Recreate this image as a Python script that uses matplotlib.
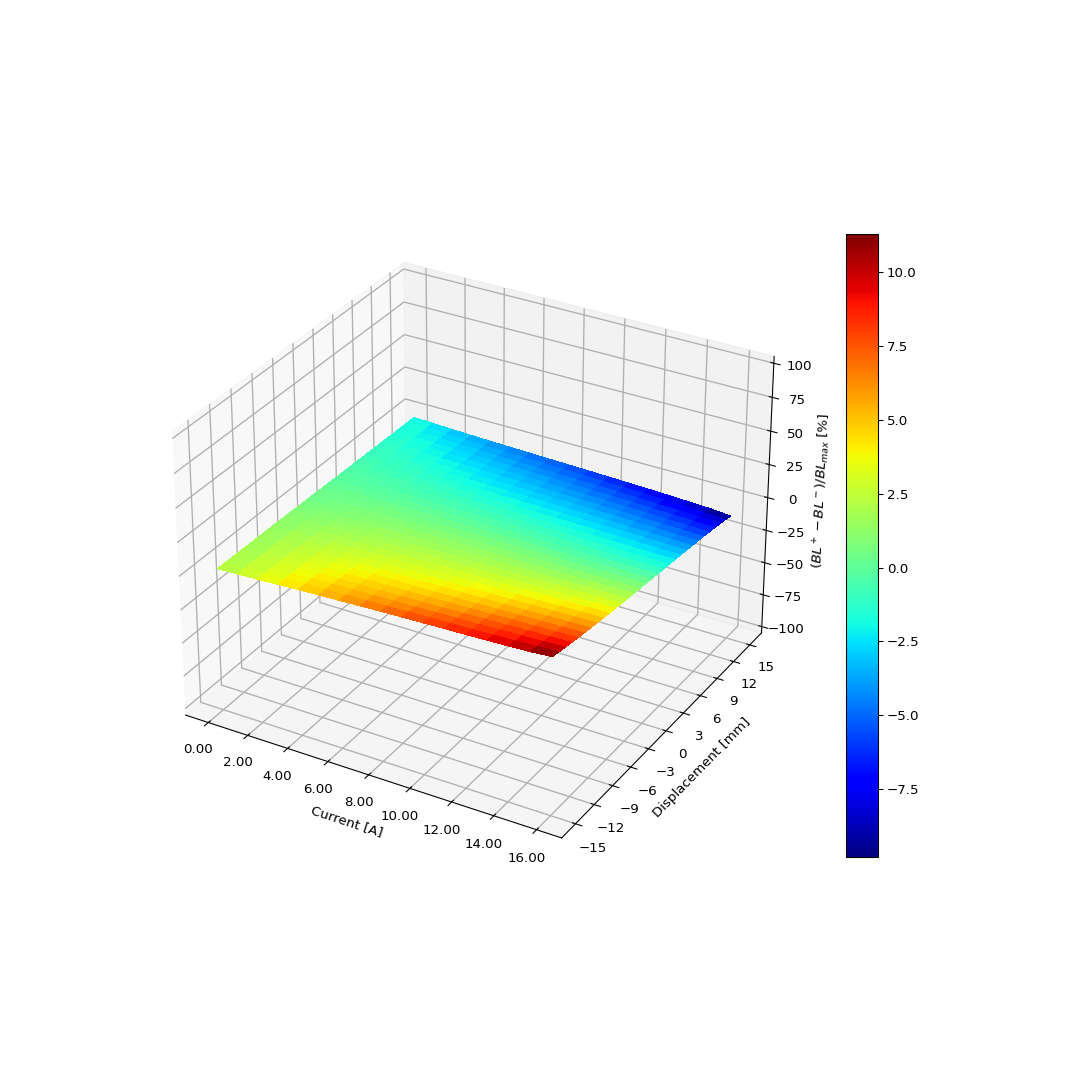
import numpy as np
import matplotlib
matplotlib.use("Agg")
import matplotlib.pyplot as plt
from matplotlib import cm

plt.rcParams["grid.linewidth"] = 1.0

# Current [A]
current = list(range(0, 17))
current_ticks = [0, 2, 4, 6, 8, 10, 12, 14, 16]
# Displacement [mm]
displacement = list(range(-15, 16))
displacement_ticks = [-15, -12, -9, -6, -3, 0, 3, 6, 9, 12, 15]
z_ticks = [-100, -75, -50, -25, 0, 25, 50, 75, 100]
color_min = -9.8
color_max = 11.3

# (BL+ - BL-)/BLmax [%], one row per current, one column per displacement
asym = [
    [2.0, 1.9, 1.8, 1.7, 1.6, 1.5, 1.4, 1.3, 1.2, 1.1, 1.0, 0.8, 0.7, 0.5, 0.4, 0.2, 0.1, -0.1, -0.2, -0.3, -0.5, -0.6, -0.7, -0.9, -1.0, -1.1, -1.3, -1.4, -1.5, -1.6, -1.7],
    [2.6, 2.5, 2.4, 2.2, 2.1, 2.0, 1.9, 1.7, 1.6, 1.4, 1.2, 1.0, 0.9, 0.6, 0.5, 0.3, 0.2, -0.1, -0.2, -0.4, -0.6, -0.8, -0.9, -1.1, -1.2, -1.4, -1.6, -1.8, -2.0, -2.1, -2.3],
    [3.2, 3.1, 2.9, 2.8, 2.6, 2.5, 2.3, 2.1, 1.9, 1.7, 1.5, 1.2, 1.0, 0.8, 0.6, 0.4, 0.2, -0.1, -0.3, -0.5, -0.7, -0.9, -1.1, -1.3, -1.5, -1.7, -1.9, -2.1, -2.4, -2.6, -2.9],
    [3.9, 3.7, 3.5, 3.3, 3.1, 2.9, 2.7, 2.4, 2.2, 1.9, 1.7, 1.4, 1.2, 0.9, 0.7, 0.5, 0.2, -0.1, -0.3, -0.6, -0.8, -1.1, -1.3, -1.5, -1.8, -2.0, -2.3, -2.5, -2.8, -3.1, -3.4],
    [4.7, 4.4, 4.1, 3.8, 3.5, 3.3, 3.0, 2.7, 2.4, 2.1, 1.8, 1.6, 1.3, 1.0, 0.8, 0.5, 0.2, -0.1, -0.4, -0.7, -0.9, -1.2, -1.5, -1.7, -2.0, -2.3, -2.6, -2.9, -3.2, -3.6, -3.9],
    [5.3, 5.0, 4.6, 4.3, 3.9, 3.6, 3.3, 2.9, 2.6, 2.3, 2.0, 1.7, 1.4, 1.1, 0.8, 0.5, 0.2, -0.1, -0.4, -0.8, -1.0, -1.3, -1.7, -2.0, -2.3, -2.5, -2.9, -3.2, -3.6, -4.0, -4.3],
    [5.9, 5.5, 5.1, 4.7, 4.3, 3.9, 3.5, 3.1, 2.8, 2.4, 2.1, 1.8, 1.5, 1.2, 0.8, 0.5, 0.2, -0.2, -0.5, -0.8, -1.2, -1.5, -1.8, -2.2, -2.5, -2.8, -3.2, -3.5, -3.9, -4.3, -4.7],
    [6.5, 6.0, 5.5, 5.0, 4.6, 4.1, 3.7, 3.3, 2.9, 2.5, 2.2, 1.9, 1.5, 1.2, 0.9, 0.5, 0.1, -0.2, -0.6, -0.9, -1.3, -1.6, -2.0, -2.4, -2.7, -3.1, -3.5, -3.8, -4.3, -4.7, -5.1],
    [7.1, 6.5, 5.9, 5.3, 4.8, 4.3, 3.8, 3.4, 3.0, 2.6, 2.3, 1.9, 1.6, 1.2, 0.9, 0.5, 0.1, -0.2, -0.6, -1.0, -1.3, -1.7, -2.1, -2.5, -2.9, -3.3, -3.7, -4.1, -4.6, -5.0, -5.5],
    [7.6, 7.0, 6.3, 5.7, 5.1, 4.6, 4.1, 3.6, 3.2, 2.8, 2.4, 2.0, 1.7, 1.3, 0.9, 0.5, 0.1, -0.3, -0.7, -1.1, -1.5, -1.9, -2.3, -2.7, -3.1, -3.6, -4.0, -4.4, -4.9, -5.4, -5.9],
    [8.1, 7.4, 6.7, 6.0, 5.4, 4.8, 4.3, 3.8, 3.4, 2.9, 2.5, 2.1, 1.7, 1.3, 0.9, 0.5, 0.1, -0.4, -0.8, -1.2, -1.6, -2.0, -2.4, -2.9, -3.3, -3.8, -4.2, -4.7, -5.2, -5.8, -6.3],
    [8.6, 7.9, 7.2, 6.5, 5.8, 5.2, 4.6, 4.1, 3.6, 3.1, 2.6, 2.2, 1.8, 1.3, 0.9, 0.5, 0.0, -0.5, -0.9, -1.3, -1.8, -2.2, -2.6, -3.1, -3.6, -4.1, -4.6, -5.1, -5.6, -6.2, -6.8],
    [9.0, 8.3, 7.6, 7.0, 6.3, 5.6, 4.9, 4.3, 3.8, 3.2, 2.7, 2.3, 1.8, 1.3, 0.9, 0.4, -0.1, -0.5, -1.0, -1.4, -1.9, -2.3, -2.8, -3.3, -3.8, -4.3, -4.9, -5.4, -6.0, -6.6, -7.2],
    [9.5, 8.8, 8.2, 7.5, 6.8, 6.0, 5.3, 4.7, 4.1, 3.5, 2.9, 2.5, 1.9, 1.4, 0.9, 0.4, -0.1, -0.6, -1.1, -1.6, -2.1, -2.5, -3.0, -3.6, -4.1, -4.6, -5.2, -5.8, -6.5, -7.1, -7.8],
    [10.0, 9.3, 8.6, 7.9, 7.1, 6.3, 5.6, 5.0, 4.3, 3.7, 3.1, 2.6, 2.0, 1.5, 0.9, 0.4, -0.1, -0.7, -1.2, -1.7, -2.2, -2.7, -3.2, -3.8, -4.3, -4.9, -5.5, -6.1, -6.9, -7.6, -8.4],
    [10.7, 10.0, 9.2, 8.4, 7.6, 6.8, 6.1, 5.4, 4.7, 4.0, 3.4, 2.8, 2.2, 1.6, 1.0, 0.5, -0.1, -0.7, -1.3, -1.8, -2.3, -2.9, -3.4, -4.1, -4.6, -5.3, -5.9, -6.6, -7.4, -8.3, -9.1],
    [11.9, 10.9, 9.9, 8.9, 8.1, 7.3, 6.5, 5.7, 5.0, 4.2, 3.6, 2.9, 2.3, 1.7, 1.1, 0.5, -0.1, -0.7, -1.3, -1.9, -2.4, -3.0, -3.6, -4.3, -4.9, -5.6, -6.3, -7.0, -7.9, -8.9, -10.4],
]

X, Y = np.meshgrid(current, displacement, indexing="ij")
Z = np.array(asym)

fig = plt.figure(figsize=(11.25, 11.25), dpi=96)
ax = fig.add_subplot(projection="3d")
surf = ax.plot_surface(X, Y, Z, cmap=cm.jet, vmin=color_min, vmax=color_max,
                       linewidth=0, antialiased=False)

ax.set_zlim(-105, 105)
ax.set_xticks(current_ticks)
ax.set_xticklabels([f"{c:.2f}" for c in current_ticks])
ax.set_yticks(displacement_ticks)
ax.set_zticks(z_ticks)
ax.set_xlabel("Current [A]")
ax.set_ylabel("Displacement [mm]")
ax.set_zlabel(r"$(BL^+ - BL^-)/BL_{max}$ [%]")

fig.colorbar(surf, shrink=0.75)
plt.savefig("out.png")
